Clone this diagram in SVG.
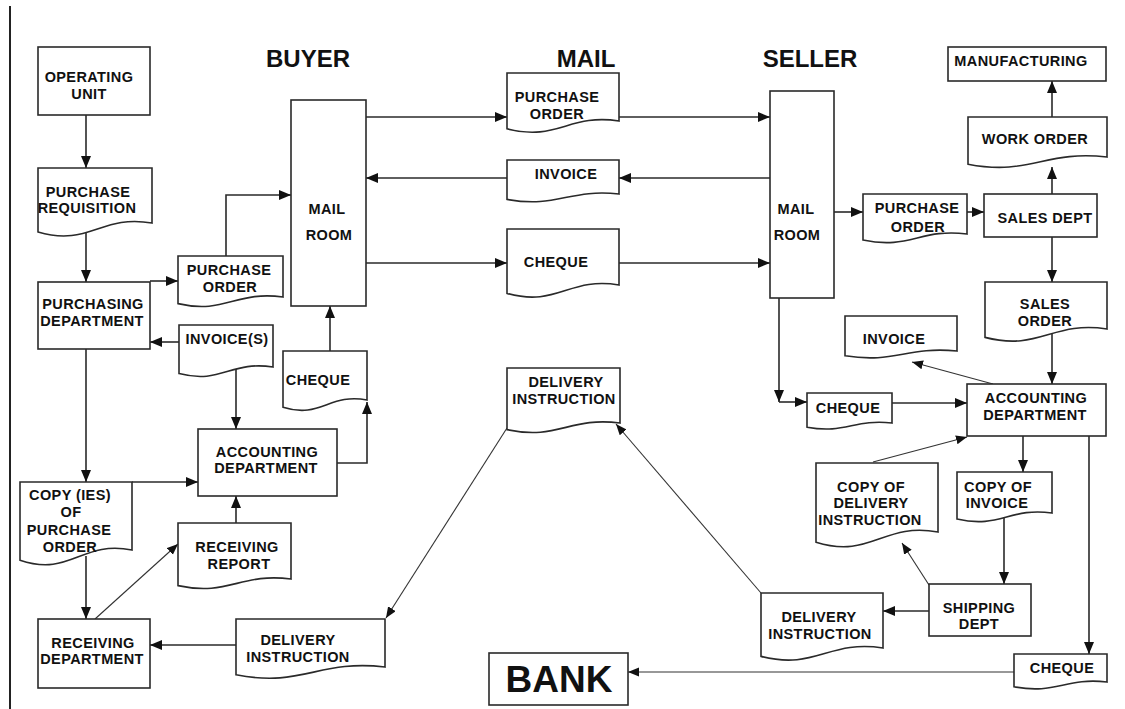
<svg xmlns="http://www.w3.org/2000/svg" width="1125" height="709" viewBox="0 0 1125 709">
  <style>
    .box { fill: #fff; stroke: #2a2a2a; stroke-width: 1.6; }
    .ln { fill: none; stroke: #2a2a2a; stroke-width: 1.6; marker-end: url(#ah); }
    .thin { fill: none; stroke: #333; stroke-width: 1.1; marker-end: url(#ahs); }
    .t { font-family: "Liberation Sans", Arial, sans-serif; font-weight: bold; font-size: 14.5px; letter-spacing: 0.4px; fill: #111; text-anchor: middle; }
    .h { font-family: "Liberation Sans", Arial, sans-serif; font-weight: bold; font-size: 24px; fill: #111; text-anchor: middle; }
  </style>
  <defs>
    <marker id="ah" markerUnits="userSpaceOnUse" markerWidth="13" markerHeight="11" refX="12" refY="5" orient="auto">
      <path d="M0,0 L12,5 L0,10 Z" fill="#111"/>
    </marker>
    <marker id="ahs" markerUnits="userSpaceOnUse" markerWidth="12" markerHeight="10" refX="11" refY="4.5" orient="auto">
      <path d="M0,0 L11,4.5 L0,9 Z" fill="#111"/>
    </marker>
  </defs>
  <rect width="1125" height="709" fill="#fff"/>
  <line x1="10" y1="6" x2="10" y2="709" stroke="#222" stroke-width="2"/>

  <!-- column headings -->
  <text class="h" x="308" y="67">BUYER</text>
  <text class="h" x="586" y="67">MAIL</text>
  <text class="h" x="810" y="67">SELLER</text>

  <g id="connectors">
    <path class="ln" d="M86,115 V168"/>
    <path class="ln" d="M86,232 V282"/>
    <path class="ln" d="M150,281 H178"/>
    <path class="ln" d="M226,260 V195 H291"/>
    <path class="ln" d="M179,342 H150"/>
    <path class="ln" d="M236,368 V429"/>
    <path class="ln" d="M86,349 V482"/>
    <path class="ln" d="M132,482 H198"/>
    <path class="ln" d="M86,556 V619"/>
    <path class="thin" d="M95,619 L178,544"/>
    <path class="ln" d="M236,523 V496"/>
    <path class="ln" d="M236,645 H150"/>
    <path class="ln" d="M337,463 H367 V402"/>
    <path class="ln" d="M330,351 V306"/>
    <path class="ln" d="M366,117 H507"/>
    <path class="ln" d="M619,117 H770"/>
    <path class="ln" d="M770,178 H619"/>
    <path class="ln" d="M507,178 H366"/>
    <path class="ln" d="M366,263 H507"/>
    <path class="ln" d="M619,263 H770"/>
    <path class="ln" d="M834,212 H863"/>
    <path class="ln" d="M967,212 H984"/>
    <path class="ln" d="M1052,194 V167"/>
    <path class="ln" d="M1052,117 V81"/>
    <path class="ln" d="M1052,237 V282"/>
    <path class="ln" d="M1052,334 V384"/>
    <path class="thin" d="M993,384 L912,362"/>
    <path class="ln" d="M779,298 V402"/>
    <path class="ln" d="M779,402 H807"/>
    <path class="ln" d="M892,403 H967"/>
    <path class="thin" d="M873,462 L967,437"/>
    <path class="ln" d="M1023,436 V472"/>
    <path class="ln" d="M1004,516 V584"/>
    <path class="thin" d="M929,585 L902,543"/>
    <path class="ln" d="M929,611 H883"/>
    <path class="ln" d="M1089,436 V654"/>
    <path class="thin" d="M1014,672 H628"/>
    <path class="thin" d="M507,428 L386,618"/>
    <path class="thin" d="M761,593 L616,424"/>
  </g>

  <g id="operating-unit">
    <rect class="box" x="38" y="47" width="112" height="68"/>
    <text class="t" x="89" y="82">OPERATING</text>
    <text class="t" x="89" y="99">UNIT</text>
  </g>
  <g id="purchase-requisition">
    <path class="box" d="M38,168 H152 V223 C100.7,214 89.3,247 38,232 Z"/>
    <text class="t" x="88" y="197">PURCHASE</text>
    <text class="t" x="87" y="213">REQUISITION</text>
  </g>
  <g id="purchasing-department">
    <rect class="box" x="38" y="282" width="112" height="67"/>
    <text class="t" x="93" y="309">PURCHASING</text>
    <text class="t" x="92" y="326">DEPARTMENT</text>
  </g>
  <g id="buyer-purchase-order">
    <path class="box" d="M178,256 H283 V297 C235.8,290.4 225.3,314.6 178,303.6 Z"/>
    <text class="t" x="229" y="275">PURCHASE</text>
    <text class="t" x="230" y="292">ORDER</text>
  </g>
  <g id="buyer-invoices">
    <path class="box" d="M179,325 H273 V367 C230.7,360.4 221.3,384.6 179,373.6 Z"/>
    <text class="t" x="227" y="344">INVOICE(S)</text>
  </g>
  <g id="buyer-mail-room">
    <rect class="box" x="291" y="100" width="75" height="206"/>
    <text class="t" x="327" y="214">MAIL</text>
    <text class="t" x="329" y="240">ROOM</text>
  </g>
  <g id="buyer-cheque">
    <path class="box" d="M283,351 H367 V400 C329.2,392.8 320.8,419.2 283,407.2 Z"/>
    <text class="t" x="318" y="385">CHEQUE</text>
  </g>
  <g id="buyer-accounting">
    <rect class="box" x="198" y="429" width="139" height="67"/>
    <text class="t" x="267" y="457">ACCOUNTING</text>
    <text class="t" x="266" y="473">DEPARTMENT</text>
  </g>
  <g id="copies-of-purchase-order">
    <path class="box" d="M20,482 H132 V550 C81.6,539.8 70.4,577.2 20,560.2 Z"/>
    <text class="t" x="70" y="500">COPY (IES)</text>
    <text class="t" x="71" y="517">OF</text>
    <text class="t" x="69" y="535">PURCHASE</text>
    <text class="t" x="70" y="552">ORDER</text>
  </g>
  <g id="receiving-report">
    <path class="box" d="M178,523 H291 V579 C240.2,572.4 228.9,596.6 178,585.6 Z"/>
    <text class="t" x="237" y="552">RECEIVING</text>
    <text class="t" x="239" y="569">REPORT</text>
  </g>
  <g id="receiving-department">
    <rect class="box" x="38" y="619" width="112" height="69"/>
    <text class="t" x="93" y="648">RECEIVING</text>
    <text class="t" x="92" y="664">DEPARTMENT</text>
  </g>
  <g id="buyer-delivery-instruction">
    <path class="box" d="M236,619 H385 V667 C318,659.2 303,687.8 236,674.8 Z"/>
    <text class="t" x="298" y="645">DELIVERY</text>
    <text class="t" x="298" y="662">INSTRUCTION</text>
  </g>

  <g id="mail-purchase-order">
    <path class="box" d="M507,73 H619 V121 C568.6,113.2 557.4,141.8 507,128.8 Z"/>
    <text class="t" x="557" y="102">PURCHASE</text>
    <text class="t" x="557" y="119">ORDER</text>
  </g>
  <g id="mail-invoice">
    <path class="box" d="M507,160 H619 V194 C568.6,188.6 557.4,208.4 507,199.4 Z"/>
    <text class="t" x="566" y="179">INVOICE</text>
  </g>
  <g id="mail-cheque">
    <path class="box" d="M507,229 H619 V285 C568.6,276.6 557.4,307.4 507,293.4 Z"/>
    <text class="t" x="556" y="267">CHEQUE</text>
  </g>
  <g id="mail-delivery-instruction">
    <path class="box" d="M507,368 H620 V423 C569.2,416.4 557.9,440.6 507,429.6 Z"/>
    <text class="t" x="566" y="387">DELIVERY</text>
    <text class="t" x="564" y="404">INSTRUCTION</text>
  </g>
  <g id="bank">
    <rect class="box" x="489" y="653" width="139" height="52"/>
    <text x="559" y="692" font-family="Liberation Sans, Arial, sans-serif" font-weight="bold" font-size="37" fill="#111" text-anchor="middle">BANK</text>
  </g>

  <g id="seller-mail-room">
    <rect class="box" x="770" y="91" width="64" height="207"/>
    <text class="t" x="796" y="214">MAIL</text>
    <text class="t" x="797" y="240">ROOM</text>
  </g>
  <g id="seller-purchase-order">
    <path class="box" d="M863,194 H967 V234 C920.2,228 909.8,250 863,240 Z"/>
    <text class="t" x="917" y="213">PURCHASE</text>
    <text class="t" x="918" y="232">ORDER</text>
  </g>
  <g id="sales-dept">
    <rect class="box" x="984" y="194" width="113" height="43"/>
    <text class="t" x="1045" y="223">SALES DEPT</text>
  </g>
  <g id="work-order">
    <path class="box" d="M968,117 H1107 V157 C1044.5,149.8 1030.6,176.2 968,164.2 Z"/>
    <text class="t" x="1035" y="144">WORK ORDER</text>
  </g>
  <g id="manufacturing">
    <rect class="box" x="948" y="47" width="158" height="34"/>
    <text class="t" x="1021" y="66">MANUFACTURING</text>
  </g>
  <g id="sales-order">
    <path class="box" d="M985,282 H1107 V329 C1052.1,320.6 1039.9,351.4 985,337.4 Z"/>
    <text class="t" x="1045" y="309">SALES</text>
    <text class="t" x="1045" y="326">ORDER</text>
  </g>
  <g id="seller-invoice">
    <path class="box" d="M845,316 H957 V351 C905.6,346.2 895.4,363.8 845,355.8 Z"/>
    <text class="t" x="894" y="344">INVOICE</text>
  </g>
  <g id="seller-cheque">
    <path class="box" d="M807,393 H892 V423 C853.8,418.8 845.3,434.2 807,427.2 Z"/>
    <text class="t" x="848" y="413">CHEQUE</text>
  </g>
  <g id="seller-accounting">
    <rect class="box" x="967" y="384" width="139" height="52"/>
    <text class="t" x="1036" y="403">ACCOUNTING</text>
    <text class="t" x="1035" y="420">DEPARTMENT</text>
  </g>
  <g id="copy-of-delivery-instruction">
    <path class="box" d="M816,463 H938 V532 C883.1,521.8 870.9,559.2 816,542.2 Z"/>
    <text class="t" x="871" y="492">COPY OF</text>
    <text class="t" x="871" y="508">DELIVERY</text>
    <text class="t" x="870" y="525">INSTRUCTION</text>
  </g>
  <g id="copy-of-invoice">
    <path class="box" d="M957,472 H1052 V513 C1009.3,507 999.8,529 957,519 Z"/>
    <text class="t" x="998" y="492">COPY OF</text>
    <text class="t" x="997" y="508">INVOICE</text>
  </g>
  <g id="shipping-dept">
    <rect class="box" x="929" y="584" width="102" height="52"/>
    <text class="t" x="979" y="613">SHIPPING</text>
    <text class="t" x="979" y="629">DEPT</text>
  </g>
  <g id="seller-delivery-instruction">
    <path class="box" d="M761,593 H883 V648 C828.1,639.6 815.9,670.4 761,656.4 Z"/>
    <text class="t" x="819" y="622">DELIVERY</text>
    <text class="t" x="820" y="639">INSTRUCTION</text>
  </g>
  <g id="bank-cheque">
    <path class="box" d="M1014,654 H1107 V682 C1065.2,677.2 1055.9,694.8 1014,686.8 Z"/>
    <text class="t" x="1062" y="673">CHEQUE</text>
  </g>
</svg>
